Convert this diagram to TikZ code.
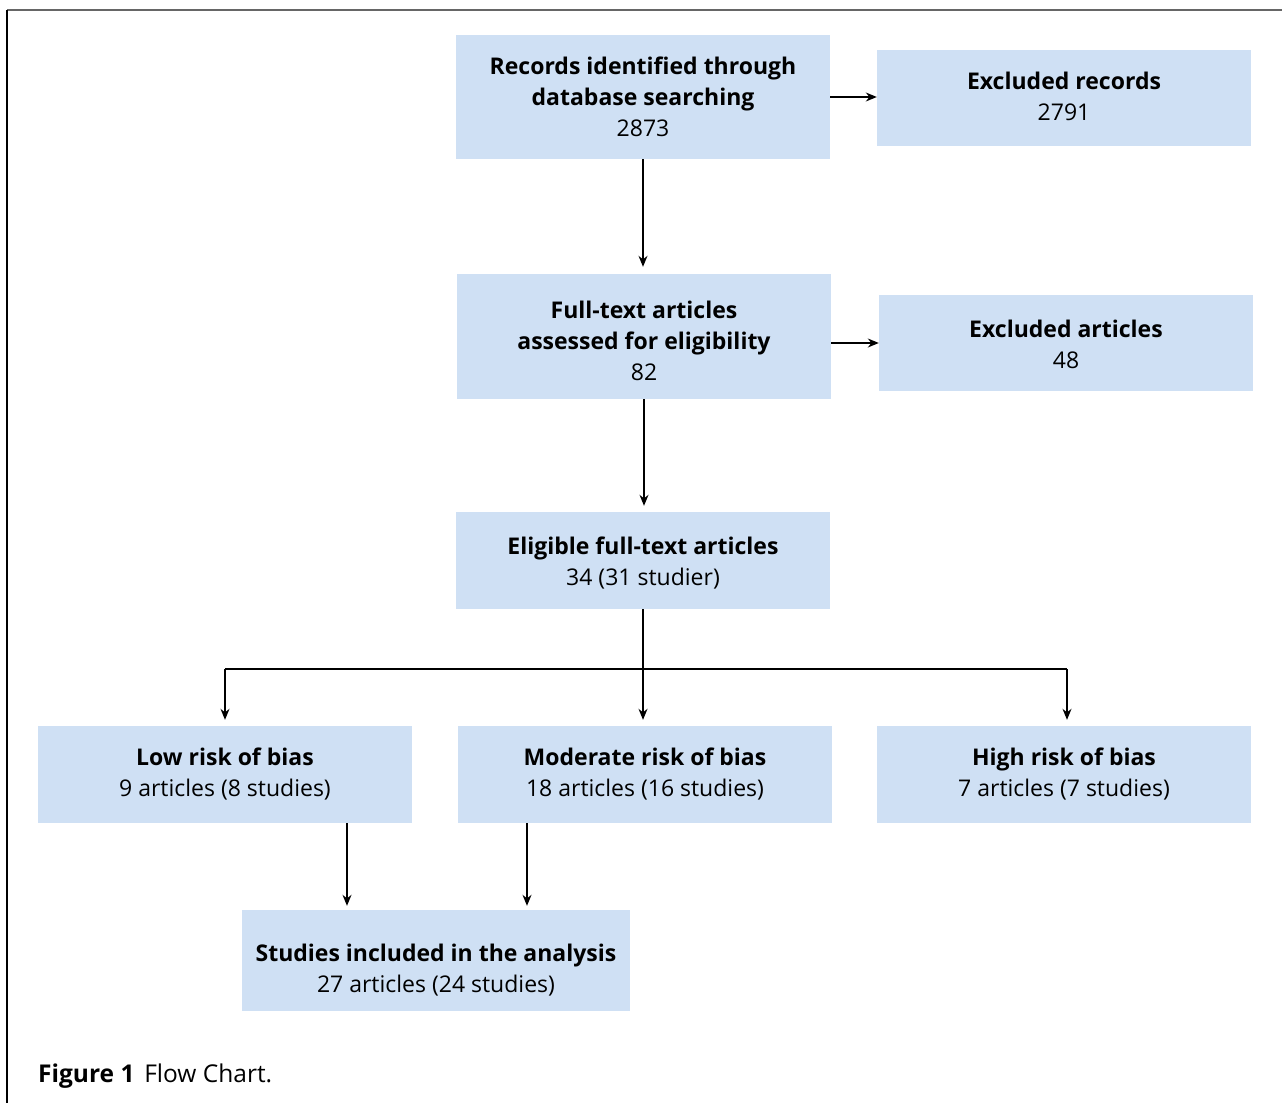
\documentclass[tikz,border=0pt]{standalone}
\usepackage{fontspec}
\setmainfont{Open Sans}
\usetikzlibrary{arrows.meta}
\definecolor{boxblue}{RGB}{207,224,244}
\begin{document}
\begin{tikzpicture}[x=1pt,y=-1pt,
  box/.style={fill=boxblue, draw=none, inner sep=0pt, minimum width=374pt},
  txt/.style={align=center, font=\fontsize{23}{31}\selectfont, inner sep=0pt},
  arr/.style={-{Stealth[length=11pt,width=9pt]}, line width=1.3pt, black},
  ln/.style={line width=1.3pt, black}]
\useasboundingbox (0,0) rectangle (1282,1103);
\draw[line width=2pt, gray!80!black] (7,10) -- (1282,10);
\draw[line width=2pt, black] (7,10) -- (7,1103);

\node[box, minimum height=124pt] (b1) at (643,97) {};
\node[txt] (b1t) at (b1.center) {\textbf{Records identified through}\\\textbf{database searching}\\2873};
\node[box, minimum height=96pt] (e1) at (1064,98) {};
\node[txt] (e1t) at ([yshift=2pt]e1.center) {\textbf{Excluded records}\\2791};
\node[box, minimum height=125pt] (b2) at (644,336.5) {};
\node[txt] (b2t) at ([yshift=-4.5pt]b2.center) {\textbf{Full-text articles}\\\textbf{assessed for eligibility}\\82};
\node[box, minimum height=96pt] (e2) at (1066,343) {};
\node[txt] (e2t) at ([yshift=-1.5pt]e2.center) {\textbf{Excluded articles}\\48};
\node[box, minimum height=97pt] (b3) at (643,560.5) {};
\node[txt] (b3t) at ([yshift=-2.5pt]b3.center) {\textbf{Eligible full-text articles}\\34 (31 studier)};
\node[box, minimum height=97pt] (lo) at (225,774.5) {};
\node[txt] (lot) at (lo.center) {\textbf{Low risk of bias}\\9 articles (8 studies)};
\node[box, minimum height=97pt] (mo) at (645,774.5) {};
\node[txt] (mot) at (mo.center) {\textbf{Moderate risk of bias}\\18 articles (16 studies)};
\node[box, minimum height=97pt] (hi) at (1064,774.5) {};
\node[txt] (hit) at (hi.center) {\textbf{High risk of bias}\\7 articles (7 studies)};
\node[box, minimum width=388pt, minimum height=101pt] (st) at (436,960.5) {};
\node[txt] (stt) at ([yshift=-10pt]st.center) {\textbf{Studies included in the analysis}\\27 articles (24 studies)};

\node[anchor=base west, inner sep=0pt, font=\fontsize{24.5}{28}\selectfont] (cap) at (38,1082) {\textbf{Figure 1}\hspace{0.4em}Flow Chart.};

\draw[arr] (b1.south) -- ([yshift=7pt]b1.south |- b2.north);
\draw[arr] (b1.east) -- (b1.east -| e1.west);
\draw[arr] (e2.west -| b2.east) -- (e2.west);
\draw[arr] (b2.south) -- ([yshift=6pt]b2.south |- b3.north);

\coordinate (j) at (643,669);
\draw[ln] (b3.south) -- (j);
\draw[ln] (lo.north |- j) -- ([xshift=3pt]hi.north |- j);
\draw[arr] (lo.north |- j) -- ([yshift=6pt]lo.north);
\draw[arr] (j) -- ([yshift=6pt]j |- mo.north);
\draw[arr] ([xshift=3pt]hi.north |- j) -- ([xshift=3pt,yshift=6pt]hi.north);

\coordinate (la) at (347,823);
\coordinate (ma) at (527,823);
\draw[arr] (la) -- ([yshift=4pt]la |- st.north);
\draw[arr] (ma) -- ([yshift=4pt]ma |- st.north);
\end{tikzpicture}
\end{document}
